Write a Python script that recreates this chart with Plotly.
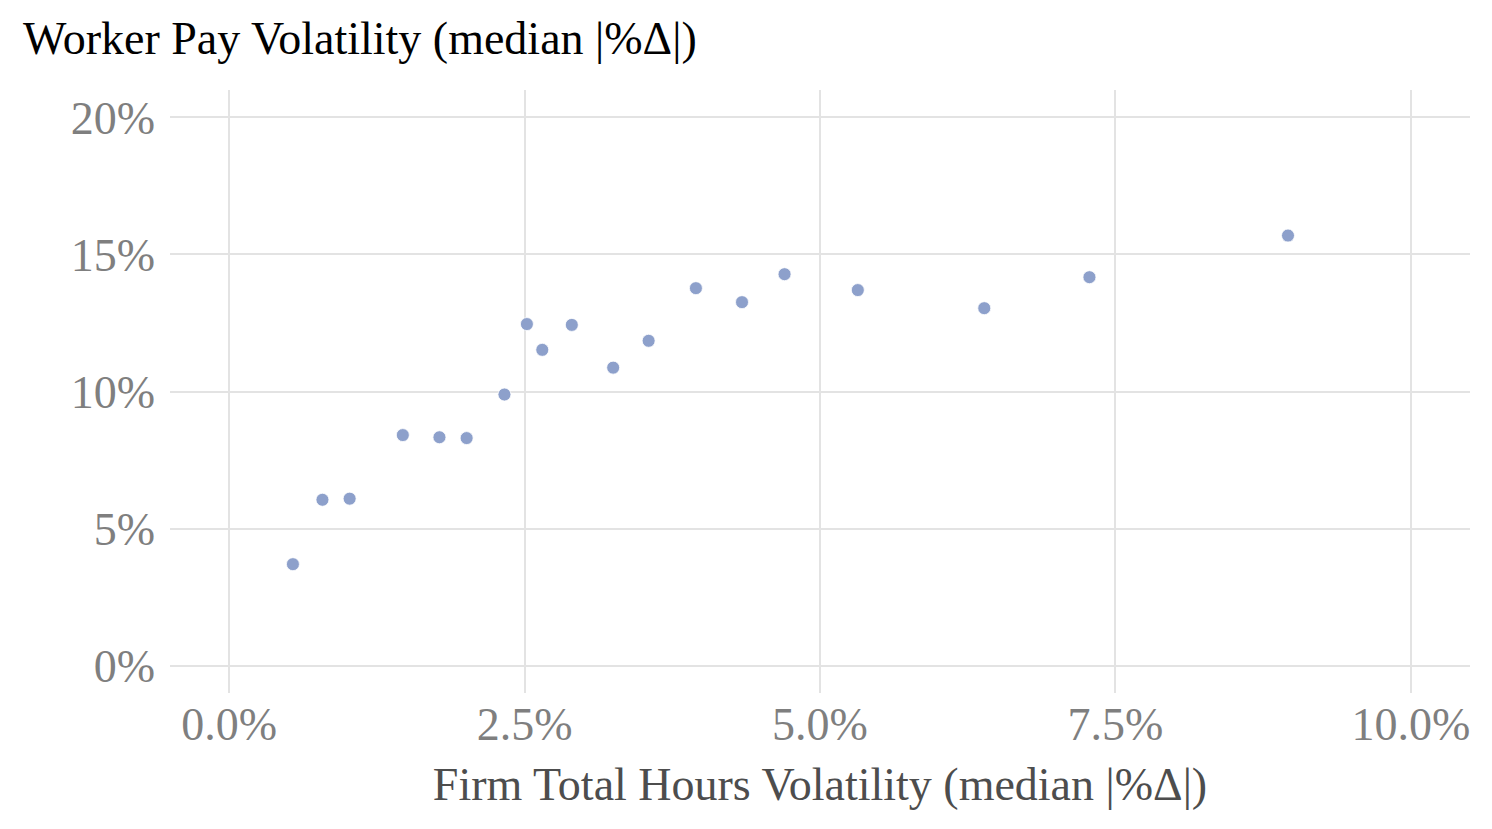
import plotly.graph_objects as go

# Firm total hours volatility (median |%change|), in percent
hours_vol = [0.54, 0.79, 1.02, 1.47, 1.78, 2.01, 2.33, 2.52, 2.65, 2.90, 3.25, 3.55,
             3.95, 4.34, 4.70, 5.32, 6.39, 7.28, 8.96]
# Worker pay volatility (median |%change|), in percent
pay_vol = [3.70, 6.05, 6.09, 8.41, 8.33, 8.30, 9.89, 12.46, 11.52, 12.43, 10.87, 11.85,
           13.77, 13.26, 14.28, 13.70, 13.04, 14.17, 15.69]

x_ticks = [0, 2.5, 5, 7.5, 10]
x_tick_labels = ["0.0%", "2.5%", "5.0%", "7.5%", "10.0%"]
y_ticks = [0, 5, 10, 15, 20]
y_tick_labels = ["0%", "5%", "10%", "15%", "20%"]

FONT = "Liberation Serif"
FS = 46

fig = go.Figure(go.Scatter(
    x=hours_vol, y=pay_vol, mode="markers",
    marker=dict(size=13, color="#8da0cb", line=dict(width=0.8, color="white")),
    hoverinfo="x+y", showlegend=False,
))

fig.update_layout(
    width=1492, height=829,
    paper_bgcolor="white", plot_bgcolor="white",
    margin=dict(l=162, r=30, t=82, b=144),
    font=dict(family=FONT, size=FS, color="#7f7f7f"),
    title=dict(text="Worker Pay Volatility (median |%Δ|)",
               font=dict(family=FONT, size=FS, color="black"),
               x=15 / 1492, xanchor="left", xref="container",
               y=1 - 14 / 829, yanchor="top", yref="container"),
    xaxis=dict(range=[-0.5, 10.5], tickvals=x_ticks, ticktext=x_tick_labels,
               showgrid=True, gridcolor="#e3e3e3", gridwidth=1.5,
               zeroline=False, showline=False, ticks="", ticklabelstandoff=0,
               tickfont=dict(family=FONT, size=FS, color="#7f7f7f"),
               title=dict(text="Firm Total Hours Volatility (median |%Δ|)",
                          font=dict(family=FONT, size=FS, color="#4d4d4d"),
                          standoff=18)),
    yaxis=dict(range=[-1, 21], tickvals=y_ticks, ticktext=y_tick_labels,
               showgrid=True, gridcolor="#e3e3e3", gridwidth=1.5,
               zeroline=False, showline=False, ticks="", ticklabelstandoff=14,
               tickfont=dict(family=FONT, size=FS, color="#7f7f7f")),
)

fig.write_html("out.html")
